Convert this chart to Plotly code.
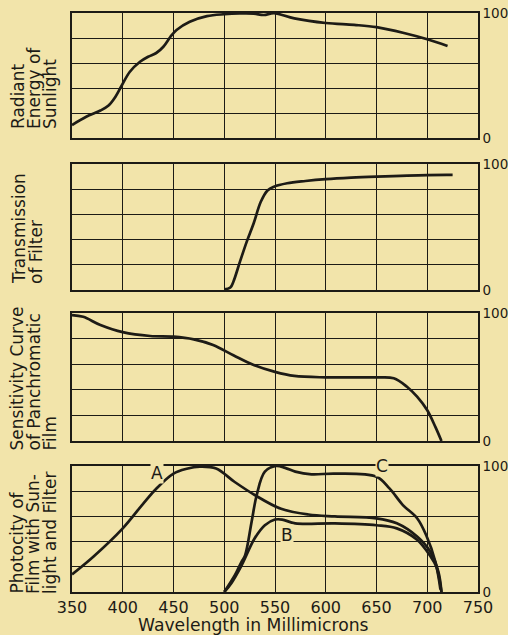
import plotly.graph_objects as go
from plotly.subplots import make_subplots

# ---------------- data ----------------
sun_wl = [350, 364, 378, 386, 392, 399, 407, 417, 425, 433, 440, 447, 453, 466, 483, 500, 515, 529, 539, 549, 569, 600, 628, 650, 677, 700, 720]
sun_val = [10.4, 17, 22, 26, 32, 42, 53, 61, 65, 68, 73, 81, 86.4, 93, 97.5, 99, 99.6, 99.5, 98.4, 99.8, 95.7, 92, 90.5, 88.7, 84, 79, 73.6]

filt_wl = [500, 506, 509, 515.5, 522, 529, 536, 542.6, 549, 562, 580, 600, 625, 650, 700, 725]
filt_val = [0.5, 2, 6.6, 22.5, 38, 53, 70, 79, 82, 84.7, 86.5, 88, 89.2, 90, 91.2, 91.3]

film_wl = [350, 361, 378, 400, 427, 450, 470, 489, 509, 529, 550, 569, 600, 650, 667, 680, 690, 700, 708, 714]
film_val = [98.4, 97, 90.6, 85, 82, 81.5, 79.4, 75, 67, 59.4, 54, 50.8, 49.7, 49.7, 49, 42.4, 34.6, 24, 11, 0]

a_wl = [350, 371, 400, 420, 433, 450, 463, 476, 492, 510, 530, 556, 583, 609, 650, 670, 690, 703, 711, 714]
a_val = [14, 28, 50.5, 70, 82, 94, 97.8, 99.5, 98, 87.5, 77, 66, 61.5, 60, 58.5, 54.5, 44, 32, 16, 0]

b_wl = [500, 507, 517, 530, 540, 550, 557, 570, 609, 650, 670, 690, 703, 709, 714]
b_val = [0, 7, 21, 42.6, 53, 57.5, 57.5, 54.5, 54.5, 53, 50.5, 41.5, 28.5, 20, 0]

c_wl = [500, 510.6, 517, 520.5, 527, 532, 540, 551, 560, 570, 586, 609, 650, 663, 676, 690, 699, 708, 713]
c_val = [0, 13.5, 24, 29, 56, 77, 95.5, 100, 98.5, 95.5, 93.4, 94, 91.5, 82, 69, 58.5, 45, 24, 2]

x_ticks = [350, 400, 450, 500, 550, 600, 650, 700, 750]
y_ticks = [0, 20, 40, 60, 80, 100]
y_ticktext = ["0", "", "", "", "", "100"]

# ---------------- style ----------------
BG = "#F2E4AA"
INK = "#1d1b16"
TXT = "DejaVu Sans"
NUM = "DejaVu Sans"

fig = make_subplots(rows=4, cols=1)

curve_style = dict(color=INK, width=2.7, shape="spline", smoothing=1.0)
fig.add_trace(go.Scatter(x=sun_wl, y=sun_val, mode="lines", line=curve_style), row=1, col=1)
fig.add_trace(go.Scatter(x=filt_wl, y=filt_val, mode="lines", line=curve_style), row=2, col=1)
fig.add_trace(go.Scatter(x=film_wl, y=film_val, mode="lines", line=curve_style), row=3, col=1)
fig.add_trace(go.Scatter(x=a_wl, y=a_val, mode="lines", line=curve_style), row=4, col=1)
fig.add_trace(go.Scatter(x=b_wl, y=b_val, mode="lines", line=curve_style), row=4, col=1)
fig.add_trace(go.Scatter(x=c_wl, y=c_val, mode="lines", line=curve_style), row=4, col=1)

domains = [[0.7841, 1.0], [0.5216, 0.7392], [0.2608, 0.4819], [0.0, 0.2176]]
for i in range(4):
    xa = "xaxis" if i == 0 else f"xaxis{i+1}"
    ya = "yaxis" if i == 0 else f"yaxis{i+1}"
    fig.layout[xa].update(
        range=[350, 750], tickvals=x_ticks, showgrid=True, gridcolor=INK, gridwidth=1,
        showline=True, mirror=True, linecolor=INK, linewidth=1.6, zeroline=False,
        ticks="", showticklabels=(i == 3), tickfont=dict(family=NUM, size=16, color=INK),
        domain=[0, 1], automargin=False,
    )
    fig.layout[ya].update(
        range=[0, 100], tickvals=y_ticks, ticktext=y_ticktext, side="right",
        showgrid=True, gridcolor=INK, gridwidth=1, showline=True, mirror=True,
        linecolor=INK, linewidth=1.6, zeroline=False, ticks="",
        tickfont=dict(family=NUM, size=13.5, color=INK), domain=domains[i], automargin=False,
    )

ann = []
def px_x(p):
    return (p - 72) / 406.0
def px_y(p):
    return (592 - p) / 579.0

titles = [
    (["Radiant", "Energy of", "Sunlight"], [18, 34, 50], 131),
    (["Transmission", "of Filter"], [18.5, 36], 286),
    (["Sensitivity Curve", "of Panchromatic", "Film"], [16.5, 33, 49], 453),
    (["Photocity of", "Film with Sun-", "light and Filter"], [16.5, 33, 49.5], 596),
]
for lines, xs, yb in titles:
    for t, xp in zip(lines, xs):
        ann.append(dict(text=t, xref="paper", yref="paper", x=px_x(xp), y=px_y(yb),
                        xanchor="center", yanchor="bottom", textangle=-90, showarrow=False,
                        font=dict(family=TXT, size=17, color=INK)))

ann.append(dict(text="Wavelength in Millimicrons", xref="paper", yref="paper",
                x=px_x(253.5), y=px_y(625), xanchor="center", yanchor="middle",
                showarrow=False, font=dict(family=TXT, size=17.2, color=INK)))

for lab, lx, ly in [("A", 433.4, 94.2), ("B", 561.5, 45.2), ("C", 655, 100)]:
    ann.append(dict(text=lab, xref="x4", yref="y4", x=lx, y=ly, showarrow=False,
                    bgcolor=BG, borderpad=0, font=dict(family=TXT, size=17, color=INK)))

fig.update_layout(
    width=508, height=635, showlegend=False,
    margin=dict(l=72, r=30, t=13, b=43),
    paper_bgcolor=BG, plot_bgcolor=BG, annotations=ann,
)

fig.write_html(
    "out.html",
    config={"displayModeBar": False},
    post_script="document.body.style.margin='0';document.body.style.overflow='hidden';"
                "document.body.style.background='" + BG + "';",
)
